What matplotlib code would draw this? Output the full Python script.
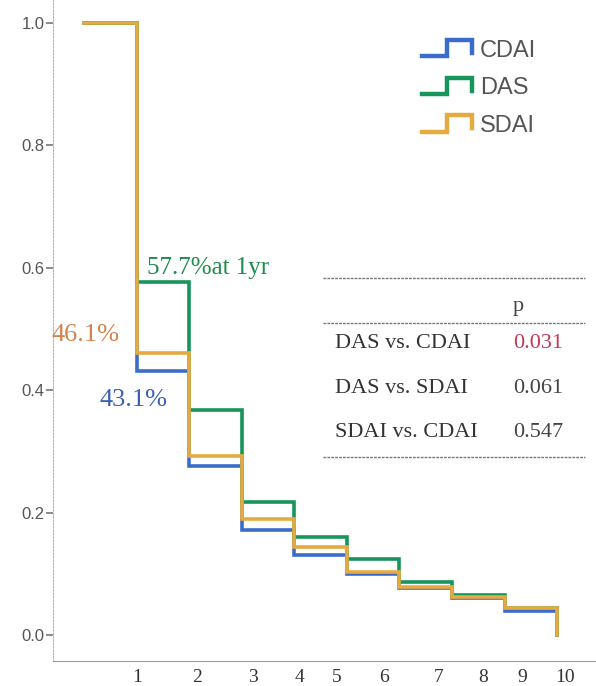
import matplotlib
matplotlib.use("Agg")
import matplotlib.pyplot as plt
from matplotlib.legend_handler import HandlerBase
from matplotlib.lines import Line2D

# Cumulative probability of remaining in remission, by disease activity index
times = [0, 1, 2, 3, 4, 5, 6, 7, 8, 9]
cdai = [1.0, 0.431, 0.276, 0.172, 0.131, 0.100, 0.076, 0.060, 0.040, 0.0]
das = [1.0, 0.577, 0.368, 0.217, 0.160, 0.124, 0.087, 0.065, 0.044, 0.0]
sdai = [1.0, 0.461, 0.292, 0.190, 0.144, 0.103, 0.078, 0.062, 0.044, 0.0]
series_names = ["CDAI", "DAS", "SDAI"]
series_colors = ["#3b6cc9", "#17955a", "#e6ab40"]

year_labels = ["1", "2", "3", "4", "5", "6", "7", "8", "9", "10"]
year_label_pos = [1.01, 2.15, 3.21, 4.09, 4.81, 5.71, 6.74, 7.59, 8.33, 9.15]
y_ticks = [0.0, 0.2, 0.4, 0.6, 0.8, 1.0]

comparisons = ["DAS vs. CDAI", "DAS vs. SDAI", "SDAI vs. CDAI"]
p_values = ["0.031", "0.061", "0.547"]
p_colors = ["#c23a55", "#444444", "#444444"]

one_year_pct = {"DAS": 57.7, "SDAI": 46.1, "CDAI": 43.1}

SERIF = ["Liberation Serif", "DejaVu Serif"]
SANS = ["Liberation Sans", "DejaVu Sans"]


class StepHandler(HandlerBase):
    """Legend key drawn as a small step outline."""

    def create_artists(self, legend, orig_handle, xdescent, ydescent,
                       width, height, fontsize, trans):
        x0, x1 = -xdescent, -xdescent + width
        xm = x0 + 0.5 * width
        ylo = -ydescent + 0.0 * height
        yhi = -ydescent + 1.0 * height
        xs = [x0, xm, xm, x1, x1]
        ys = [ylo, ylo, yhi, yhi, ylo + 0.2 * height]
        ln = Line2D(xs, ys, color=orig_handle.get_color(), lw=3.2,
                    solid_joinstyle="miter", transform=trans)
        return [ln]


fig = plt.figure(figsize=(5.96, 6.86), dpi=100)
ax = fig.add_axes([53 / 596, 25 / 686, 543 / 596, 661 / 686])

handles = []
for vals, name, col in zip([cdai, das, sdai], series_names, series_colors):
    h, = ax.step(times, vals, where="post", color=col, lw=2.6, label=name,
                 solid_joinstyle="miter")
    handles.append(h)

ax.set_xlim(-0.59, 9.74)
ax.set_ylim(-0.0425, 1.0376)

ax.set_xticks(year_label_pos)
ax.set_xticklabels(year_labels, fontfamily=SERIF, fontsize=14, color="#333333")
ax.tick_params(axis="x", length=0, pad=6)
ax.set_yticks(y_ticks)
ax.set_yticklabels([f"{v:.1f}" for v in y_ticks], fontfamily=SANS,
                   fontsize=12, color="#555555")
ax.tick_params(axis="y", length=5, width=1.2, color="#777777", pad=1)

for side in ["top", "right"]:
    ax.spines[side].set_visible(False)
ax.spines["left"].set_linestyle((0, (1.5, 1.5)))
ax.spines["left"].set_color("#b5b5b5")
ax.spines["bottom"].set_linestyle((0, (2, 1)))
ax.spines["bottom"].set_color("#9a9a9a")

# One-year remission annotations
ax.text(1.2, 0.60, f"{one_year_pct['DAS']}%at 1yr", color="#1e8c4c",
        fontfamily=SERIF, fontsize=18, va="center", ha="left")
ax.text(-0.61, 0.49, f"{one_year_pct['SDAI']}%", color="#d4834e",
        fontfamily=SERIF, fontsize=19, va="center", ha="left")
ax.text(0.30, 0.384, f"{one_year_pct['CDAI']}%", color="#3a5fb8",
        fontfamily=SERIF, fontsize=19, va="center", ha="left")

# Legend with step-shaped keys
ax.legend(handles=handles, labels=series_names,
          handler_map={h: StepHandler() for h in handles},
          loc="upper left", bbox_to_anchor=(0.680, 0.940), frameon=False,
          prop={"family": SANS, "size": 17}, labelcolor="#555555",
          handlelength=2.1, handleheight=0.68, handletextpad=0.34,
          labelspacing=0.66, borderpad=0, borderaxespad=0)

# Log-rank comparison table
tbl_x0, tbl_x1 = 0.497, 0.980
for yy in [0.579, 0.511, 0.309]:
    ax.plot([tbl_x0, tbl_x1], [yy, yy], transform=ax.transAxes,
            color="#777777", lw=1.0, ls=(0, (2, 0.8)), clip_on=False)
ax.text(0.847, 0.536, "p", transform=ax.transAxes, fontfamily=SERIF,
        fontsize=16, color="#444444", ha="left", va="center")
for row_y, comp, pv, pc in zip([0.481, 0.413, 0.345], comparisons, p_values,
                               p_colors):
    ax.text(0.519, row_y, comp, transform=ax.transAxes, fontfamily=SERIF,
            fontsize=16, color="#333333", ha="left", va="center")
    ax.text(0.847, row_y, pv, transform=ax.transAxes, fontfamily=SERIF,
            fontsize=16, color=pc, ha="left", va="center")

fig.savefig("out.png", dpi=100, facecolor="white")
